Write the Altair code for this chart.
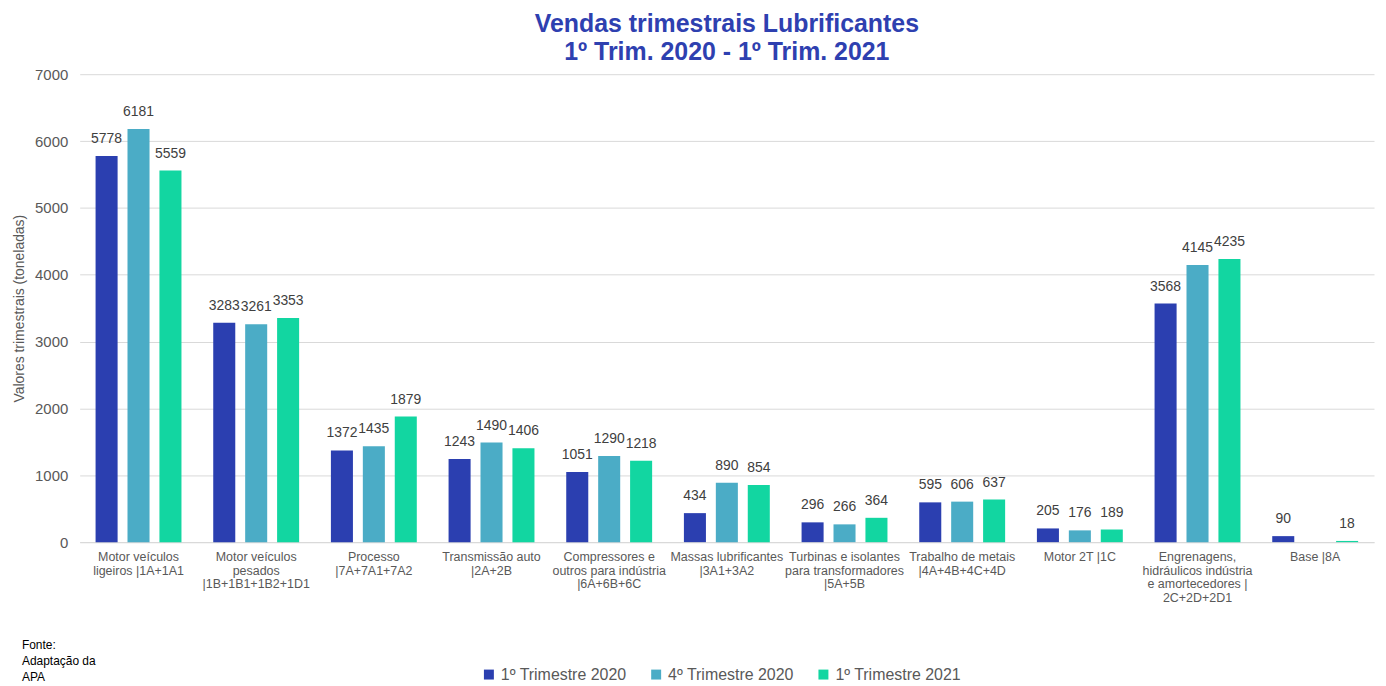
import altair as alt
import pandas as pd

categories = [
    "Motor veículos\nligeiros |1A+1A1",
    "Motor veículos\npesados\n|1B+1B1+1B2+1D1",
    "Processo\n|7A+7A1+7A2",
    "Transmissão auto\n|2A+2B",
    "Compressores e\noutros para indústria\n|6A+6B+6C",
    "Massas lubrificantes\n|3A1+3A2",
    "Turbinas e isolantes\npara transformadores\n|5A+5B",
    "Trabalho de metais\n|4A+4B+4C+4D",
    "Motor 2T |1C",
    "Engrenagens,\nhidráulicos indústria\ne amortecedores |\n2C+2D+2D1",
    "Base |8A",
]
series = ["1º Trimestre 2020", "4º Trimestre 2020", "1º Trimestre 2021"]
q1_2020 = [5778, 3283, 1372, 1243, 1051, 434, 296, 595, 205, 3568, 90]
q4_2020 = [6181, 3261, 1435, 1490, 1290, 890, 266, 606, 176, 4145, None]
q1_2021 = [5559, 3353, 1879, 1406, 1218, 854, 364, 637, 189, 4235, 18]
colors = ["#2B3FB0", "#4BACC6", "#12D6A1"]
y_ticks = [0, 1000, 2000, 3000, 4000, 5000, 6000, 7000]
source_text = ["Fonte:", "Adaptação da", "APA"]

rows = []
for s, vals in zip(series, [q1_2020, q4_2020, q1_2021]):
    for c, v in zip(categories, vals):
        if v is not None:
            rows.append({"cat": c, "serie": s, "valor": v})
df = pd.DataFrame(rows)

FONT = "Liberation Sans"

x = alt.X(
    "cat:N",
    sort=categories,
    scale=alt.Scale(paddingInner=0.27, paddingOuter=0.135),
    axis=alt.Axis(
        title=None,
        labelAngle=0,
        labelExpr="split(datum.label, '\\n')",
        labelFontSize=12.5,
        labelColor="#595959",
        labelFont=FONT,
        labelLimit=200,
        labelLineHeight=14,
        labelPadding=8,
        ticks=False,
        domainColor="#D9D9D9",
    ),
)
xoff = alt.XOffset("serie:N", sort=series, scale=alt.Scale(paddingInner=0.31))
y = alt.Y(
    "valor:Q",
    scale=alt.Scale(domain=[0, 7000], nice=False),
    axis=alt.Axis(
        title="Valores trimestrais (toneladas)",
        titleFontSize=14,
        titleFontWeight="normal",
        titleColor="#595959",
        titleFont=FONT,
        titlePadding=8,
        labelFontSize=15,
        labelColor="#595959",
        labelFont=FONT,
        labelPadding=12,
        labelOverlap=False,
        format="d",
        values=y_ticks,
        ticks=False,
        domain=False,
        gridColor="#D9D9D9",
    ),
)
color = alt.Color(
    "serie:N",
    sort=series,
    scale=alt.Scale(domain=series, range=colors),
    legend=alt.Legend(
        title=None,
        orient="none",
        direction="horizontal",
        legendX=403,
        legendY=595,
        symbolType="square",
        symbolSize=100,
        symbolStrokeWidth=0,
        labelFontSize=16,
        labelFont=FONT,
        labelColor="#595959",
        labelLimit=300,
        columnPadding=21,
        labelOffset=4,
    ),
)

base = alt.Chart(df)
bars = base.mark_bar().encode(x=x, xOffset=xoff, y=y, color=color)
labels = base.mark_text(
    dy=-10, fontSize=14, font=FONT, color="#404040", baseline="bottom"
).encode(x=x, xOffset=xoff, y=alt.Y("valor:Q"), text=alt.Text("valor:Q", format="d"))

src = alt.Chart(pd.DataFrame({"t": [source_text]})).mark_text(
    align="left", baseline="top", fontSize=12, font=FONT, color="#000000", lineHeight=16
).encode(x=alt.value(-58), y=alt.value(568), text="t")

chart = (
    alt.layer(bars, labels, src)
    .properties(
        width=1300,
        height=470,
        autosize=alt.AutoSizeParams(type="none"),
        padding={"left": 72, "top": 65, "right": 4, "bottom": 142},
        title=alt.TitleParams(
            text=["Vendas trimestrais Lubrificantes", "1º Trim. 2020 - 1º Trim. 2021"],
            fontSize=25,
            font=FONT,
            fontWeight="bold",
            color="#2E40B0",
            anchor="middle",
            lineHeight=28,
            offset=2,
        ),
    )
    .configure_view(stroke=None)
)

chart.save("out.html", embed_options={"renderer": "svg", "actions": False})
